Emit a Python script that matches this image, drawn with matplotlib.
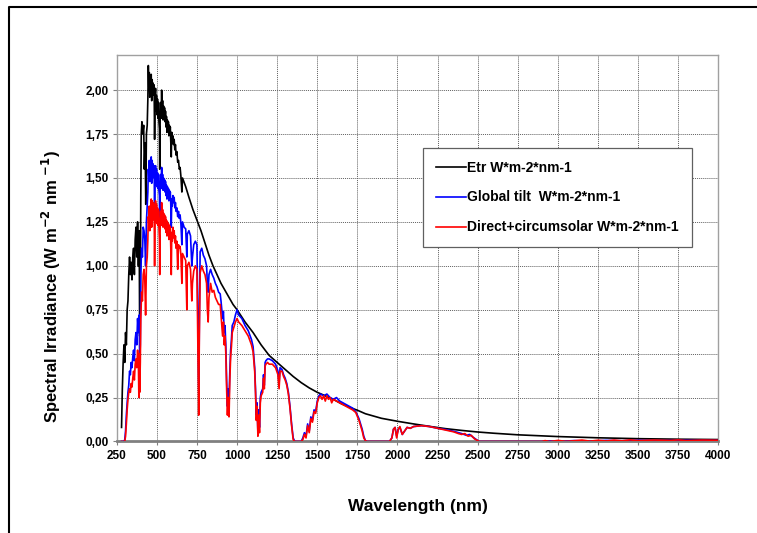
import matplotlib
matplotlib.use("Agg")
import matplotlib.pyplot as plt
from matplotlib.lines import Line2D
from matplotlib.ticker import FuncFormatter

# visible band 440-660 nm, shared wavelength grid
mid_wl = [440, 444, 447, 450, 453, 456, 459, 462, 465, 468,
          471, 474, 477, 480, 483, 486, 489, 492, 495, 498,
          501, 504, 507, 510, 513, 516, 518, 521, 524, 527,
          530, 533, 536, 539, 542, 545, 548, 551, 554, 557,
          560, 563, 566, 569, 572, 575, 578, 581, 584, 587,
          590, 593, 596, 600, 604, 608, 612, 616, 620, 625,
          630, 635, 640, 645, 650, 656, 660]

# ETR (extraterrestrial)
etr_uv_wl = [280, 285, 290, 295, 300, 305, 310, 315, 320, 325,
             330, 335, 340, 345, 350, 355, 360, 365, 370, 375,
             380, 385, 390, 393, 397, 400, 403, 407, 412, 418,
             422, 427, 431, 435]
etr_uv = [0.08, 0.30, 0.45, 0.55, 0.45, 0.62, 0.55, 0.75, 0.80, 0.95,
          1.05, 0.95, 1.02, 0.92, 1.05, 1.10, 0.95, 1.15, 1.22, 1.05,
          1.25, 1.00, 1.20, 0.60, 0.75, 1.40, 1.75, 1.82, 1.75, 1.80,
          1.55, 1.70, 1.35, 1.75]
etr_mid = [1.80, 1.95, 2.14, 2.02, 2.10, 1.96, 2.08, 2.03, 2.09, 1.94,
           2.06, 1.97, 2.04, 1.99, 2.03, 1.72, 1.96, 2.01, 1.88, 1.97,
           1.86, 1.95, 1.84, 1.93, 1.82, 1.78, 1.55, 1.86, 1.93, 1.84,
           2.00, 1.87, 1.94, 1.83, 1.91, 1.84, 1.90, 1.82, 1.88, 1.79,
           1.85, 1.76, 1.83, 1.77, 1.82, 1.74, 1.80, 1.76, 1.79, 1.71,
           1.62, 1.76, 1.70, 1.74, 1.69, 1.72, 1.66, 1.69, 1.63, 1.65,
           1.59, 1.60, 1.55, 1.56, 1.51, 1.42, 1.50]
etr_ir_wl = [680, 700, 725, 750, 775, 800, 825, 850, 875, 900,
             925, 950, 975, 1000, 1050, 1100, 1150, 1200, 1250, 1300,
             1350, 1400, 1450, 1500, 1550, 1600, 1650, 1700, 1750, 1800,
             1900, 2000, 2100, 2200, 2300, 2400, 2500, 2600, 2750, 3000,
             3250, 3500, 3750, 4000]
etr_ir = [1.45, 1.39, 1.32, 1.26, 1.20, 1.13, 1.06, 1.00, 0.95, 0.90,
          0.86, 0.82, 0.78, 0.75, 0.68, 0.62, 0.55, 0.49, 0.45, 0.41,
          0.37, 0.335, 0.305, 0.28, 0.26, 0.24, 0.215, 0.195, 0.178, 0.158,
          0.132, 0.115, 0.10, 0.086, 0.073, 0.063, 0.054, 0.047, 0.038, 0.028,
          0.021, 0.016, 0.013, 0.011]

# Global tilt
glob_uv_wl = [280, 295, 300, 305, 310, 315, 320, 325, 330, 335,
              340, 345, 350, 355, 360, 365, 370, 375, 380, 385,
              390, 393, 397, 400, 405, 410, 415, 420, 425, 430,
              435]
glob_uv = [0, 0, 0.01, 0.06, 0.15, 0.22, 0.28, 0.32, 0.40, 0.38,
           0.45, 0.42, 0.48, 0.52, 0.46, 0.58, 0.62, 0.55, 0.70, 0.62,
           0.72, 0.45, 0.55, 0.95, 1.10, 1.05, 1.22, 1.20, 1.15, 1.00,
           1.25]
glob_mid = [1.35, 1.42, 1.55, 1.50, 1.60, 1.48, 1.58, 1.53, 1.62, 1.47,
            1.60, 1.50, 1.58, 1.52, 1.57, 1.30, 1.52, 1.57, 1.46, 1.55,
            1.45, 1.53, 1.44, 1.52, 1.43, 1.40, 1.22, 1.46, 1.52, 1.44,
            1.56, 1.46, 1.52, 1.43, 1.50, 1.44, 1.49, 1.42, 1.48, 1.40,
            1.46, 1.38, 1.45, 1.39, 1.44, 1.37, 1.43, 1.39, 1.42, 1.35,
            1.22, 1.38, 1.34, 1.40, 1.36, 1.39, 1.33, 1.36, 1.31, 1.33,
            1.28, 1.31, 1.27, 1.29, 1.24, 1.12, 1.25]
glob_ir_wl = [670, 680, 687, 690, 700, 710, 718, 722, 730, 740,
              750, 758, 762, 765, 770, 780, 790, 800, 810, 815,
              820, 825, 835, 845, 855, 865, 875, 885, 895, 900,
              910, 915, 920, 925, 930, 935, 940, 945, 950, 955,
              960, 965, 970, 980, 990, 1000, 1010, 1030, 1050, 1070,
              1090, 1100, 1110, 1115, 1120, 1125, 1130, 1135, 1140, 1145,
              1150, 1160, 1165, 1170, 1175, 1180, 1190, 1200, 1220, 1240,
              1255, 1262, 1268, 1280, 1290, 1300, 1310, 1320, 1330, 1340,
              1350, 1360, 1400, 1410, 1420, 1430, 1440, 1450, 1460, 1470,
              1480, 1490, 1500, 1510, 1520, 1540, 1560, 1580, 1600, 1620,
              1640, 1660, 1680, 1700, 1720, 1740, 1760, 1780, 1790, 1800,
              1810, 1950, 1965, 1975, 1985, 1995, 2005, 2015, 2030, 2045,
              2060, 2080, 2100, 2150, 2200, 2250, 2300, 2350, 2400, 2430,
              2450, 2470, 2490, 2510, 2900, 2950, 3000, 3100, 3200, 3300,
              3400, 3500, 3600, 3700, 3800, 3900, 4000]
glob_ir = [1.22, 1.21, 1.05, 1.18, 1.20, 1.17, 1.00, 1.05, 1.12, 1.14,
           1.12, 0.55, 0.25, 0.70, 1.08, 1.10, 1.06, 1.04, 1.00, 0.90,
           0.85, 0.95, 0.98, 0.95, 0.93, 0.90, 0.88, 0.85, 0.84, 0.80,
           0.70, 0.74, 0.62, 0.66, 0.55, 0.35, 0.20, 0.30, 0.24, 0.40,
           0.52, 0.58, 0.66, 0.68, 0.72, 0.75, 0.72, 0.70, 0.66, 0.63,
           0.58, 0.54, 0.42, 0.30, 0.15, 0.22, 0.05, 0.18, 0.08, 0.25,
           0.28, 0.30, 0.38, 0.32, 0.45, 0.46, 0.47, 0.47, 0.46, 0.44,
           0.40, 0.33, 0.42, 0.41, 0.38, 0.36, 0.33, 0.28, 0.20, 0.10,
           0.02, 0.0, 0.0, 0.02, 0.05, 0.03, 0.10, 0.06, 0.14, 0.12,
           0.18, 0.17, 0.23, 0.26, 0.27, 0.26, 0.27, 0.25, 0.24, 0.25,
           0.23, 0.22, 0.21, 0.20, 0.19, 0.17, 0.13, 0.07, 0.03, 0.005,
           0, 0, 0.02, 0.07, 0.08, 0.03, 0.07, 0.08, 0.04, 0.06,
           0.08, 0.075, 0.085, 0.09, 0.085, 0.075, 0.068, 0.058, 0.045, 0.035,
           0.04, 0.025, 0.012, 0, 0, 0.003, 0.0, 0.005, 0.002, 0.006,
           0.004, 0.007, 0.005, 0.006, 0.007, 0.006, 0.006]

# Direct + circumsolar
dir_uv_wl = [280, 300, 305, 310, 315, 320, 325, 330, 335, 340,
             345, 350, 355, 360, 365, 370, 375, 380, 385, 388,
             391, 393, 397, 400, 405, 410, 415, 420, 425, 430,
             435]
dir_uv = [0, 0, 0.03, 0.10, 0.18, 0.24, 0.28, 0.30, 0.28, 0.33,
          0.31, 0.36, 0.40, 0.35, 0.44, 0.47, 0.42, 0.52, 0.45, 0.25,
          0.50, 0.28, 0.45, 0.70, 0.85, 0.80, 0.95, 0.98, 0.92, 0.72,
          1.00]
dir_mid = [1.05, 1.15, 1.28, 1.24, 1.34, 1.20, 1.33, 1.27, 1.38, 1.22,
           1.37, 1.26, 1.36, 1.30, 1.35, 1.00, 1.30, 1.37, 1.25, 1.35,
           1.24, 1.33, 1.23, 1.32, 1.22, 1.15, 0.95, 1.25, 1.31, 1.23,
           1.36, 1.25, 1.32, 1.22, 1.30, 1.23, 1.29, 1.21, 1.28, 1.19,
           1.26, 1.17, 1.25, 1.18, 1.24, 1.15, 1.23, 1.18, 1.22, 1.10,
           0.95, 1.19, 1.14, 1.22, 1.16, 1.20, 1.13, 1.17, 1.10, 1.14,
           0.98, 1.12, 1.10, 1.11, 1.06, 0.90, 1.07]
dir_ir_wl = [670, 680, 687, 690, 700, 710, 718, 722, 730, 740,
             750, 758, 761, 765, 770, 780, 790, 800, 810, 815,
             820, 825, 835, 845, 855, 865, 875, 885, 895, 900,
             910, 915, 920, 925, 930, 935, 940, 945, 950, 955,
             960, 965, 970, 980, 990, 1000, 1010, 1030, 1050, 1070,
             1090, 1100, 1110, 1115, 1120, 1125, 1130, 1135, 1140, 1145,
             1150, 1160, 1165, 1170, 1175, 1180, 1190, 1200, 1220, 1240,
             1255, 1262, 1268, 1280, 1290, 1300, 1310, 1320, 1330, 1340,
             1350, 1360, 1400, 1410, 1420, 1430, 1440, 1450, 1460, 1470,
             1480, 1490, 1500, 1510, 1520, 1530, 1540, 1550, 1560, 1570,
             1580, 1590, 1600, 1620, 1640, 1660, 1680, 1700, 1720, 1740,
             1760, 1780, 1790, 1800, 1810, 1950, 1965, 1975, 1985, 1995,
             2005, 2015, 2030, 2045, 2060, 2080, 2100, 2150, 2200, 2250,
             2300, 2350, 2380, 2400, 2420, 2440, 2460, 2480, 2500, 2510,
             2900, 2920, 2950, 3000, 3050, 3100, 3150, 3200, 3250, 3300,
             3350, 3400, 3450, 3500, 3600, 3700, 3750, 3800, 3900, 4000]
dir_ir = [1.05, 1.03, 0.75, 1.00, 1.02, 0.98, 0.80, 0.90, 0.97, 1.00,
          0.98, 0.40, 0.15, 0.60, 0.96, 1.00, 0.97, 0.95, 0.90, 0.75,
          0.68, 0.82, 0.90, 0.85, 0.86, 0.82, 0.80, 0.78, 0.78, 0.72,
          0.60, 0.68, 0.55, 0.60, 0.50, 0.30, 0.15, 0.25, 0.14, 0.35,
          0.48, 0.54, 0.62, 0.65, 0.68, 0.70, 0.68, 0.66, 0.63, 0.60,
          0.55, 0.51, 0.40, 0.28, 0.12, 0.20, 0.03, 0.15, 0.05, 0.22,
          0.26, 0.28, 0.36, 0.30, 0.43, 0.44, 0.45, 0.44, 0.44, 0.42,
          0.38, 0.30, 0.40, 0.40, 0.37, 0.35, 0.32, 0.27, 0.19, 0.09,
          0.01, 0, 0, 0.01, 0.04, 0.02, 0.09, 0.05, 0.13, 0.11,
          0.17, 0.16, 0.22, 0.25, 0.26, 0.24, 0.26, 0.23, 0.26, 0.24,
          0.25, 0.22, 0.24, 0.23, 0.22, 0.21, 0.20, 0.19, 0.18, 0.165,
          0.12, 0.06, 0.02, 0.005, 0, 0, 0.02, 0.07, 0.08, 0.02,
          0.07, 0.085, 0.04, 0.06, 0.08, 0.075, 0.085, 0.09, 0.085, 0.075,
          0.065, 0.055, 0.045, 0.04, 0.045, 0.03, 0.035, 0.015, 0.005, 0,
          0, 0.005, 0.0, 0.006, 0.001, 0.004, 0.008, 0.002, 0.007, 0.003,
          0.008, 0.004, 0.009, 0.005, 0.008, 0.006, 0.009, 0.005, 0.008, 0.007]

labels = ["Etr W*m-2*nm-1", "Global tilt  W*m-2*nm-1", "Direct+circumsolar W*m-2*nm-1"]
x_ticks = list(range(250, 4001, 250))
y_ticks = [0, 0.25, 0.5, 0.75, 1.0, 1.25, 1.5, 1.75, 2.0]

font = ["Liberation Sans", "DejaVu Sans"]

fig = plt.figure(figsize=(7.57, 5.33), dpi=100)
ax = fig.add_axes([0.1542, 0.1717, 0.7947, 0.7251])

ax.plot(etr_uv_wl + mid_wl + etr_ir_wl, etr_uv + etr_mid + etr_ir,
        color="black", lw=1.2, label=labels[0], zorder=3)
ax.plot(glob_uv_wl + mid_wl + glob_ir_wl, glob_uv + glob_mid + glob_ir,
        color="#0000ff", lw=1.2, label=labels[1], zorder=4)
ax.plot(dir_uv_wl + mid_wl + dir_ir_wl, dir_uv + dir_mid + dir_ir,
        color="#ff0000", lw=1.2, label=labels[2], zorder=5)

ax.set_xlim(250, 4000)
ax.set_ylim(0, 2.2)
ax.set_xticks(x_ticks)
ax.set_yticks(y_ticks)
ax.yaxis.set_major_formatter(FuncFormatter(lambda v, p: f"{v:.2f}".replace(".", ",")))
ax.grid(True, color="#606060", linestyle=(0, (1, 1)), linewidth=0.7)
ax.set_axisbelow(True)
ax.tick_params(direction="out", length=3, width=0.8, color="#808080", pad=3)
for lab in ax.get_xticklabels() + ax.get_yticklabels():
    lab.set_family(font)
    lab.set_fontweight("bold")
    lab.set_fontsize(8.5)

for side in ["top", "right", "left"]:
    ax.spines[side].set_color("#a0a0a0")
    ax.spines[side].set_linewidth(1.0)
ax.spines["bottom"].set_color("#808080")
ax.spines["bottom"].set_linewidth(2.0)

ax.set_ylabel("Spectral Irradiance (W m$^{\\mathbf{-2}}$ nm $^{\\mathbf{-1}}$)", family=font,
              fontweight="bold", fontsize=12)
ax.yaxis.set_label_coords(-0.089, 0.40)
ax.set_xlabel("Wavelength (nm)", family=font, fontweight="bold", fontsize=12.5, labelpad=27)

leg = ax.legend(loc="upper left", bbox_to_anchor=(423 / 757, 1 - 148 / 533),
                bbox_transform=fig.transFigure, borderaxespad=0, fancybox=False,
                prop={"family": font, "weight": "bold", "size": 10},
                labelspacing=1.15, handlelength=2.2, handletextpad=0.1,
                borderpad=0.9, framealpha=1)
leg.get_frame().set_edgecolor("#606060")
leg.get_frame().set_linewidth(0.9)
for h in leg.get_lines():
    h.set_linewidth(1.2)

# outer frame (top and left edges)
fig.add_artist(Line2D([9 / 757, 9 / 757, 1.0], [0.0, 1 - 7 / 533, 1 - 7 / 533],
                      transform=fig.transFigure, color="black", lw=1.5))

fig.savefig("out.png", dpi=100)
